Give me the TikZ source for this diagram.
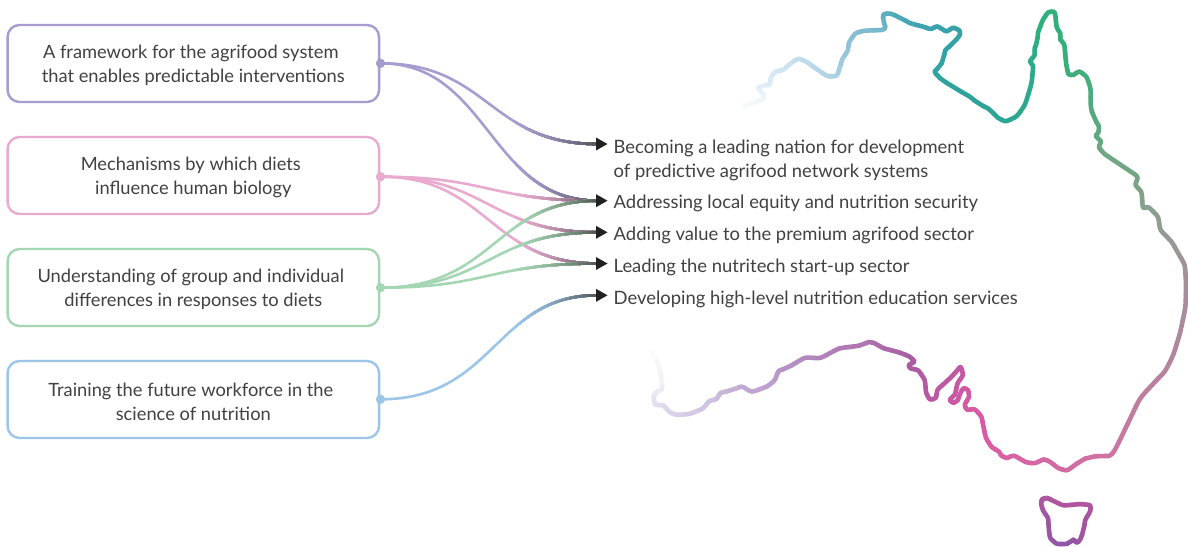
\documentclass[tikz,border=0pt]{standalone}
\usepackage{fontspec}
\setmainfont{Lato}
\definecolor{cpurple}{HTML}{A79CD0}
\definecolor{cpink}{HTML}{E8AACF}
\definecolor{cgreen}{HTML}{A5D6B4}
\definecolor{cblue}{HTML}{9CC5E8}
\definecolor{ctext}{HTML}{414141}
\definecolor{cdark}{HTML}{505050}
\definecolor{chead}{HTML}{222222}
\newcommand\hexdef[1]{\definecolor{#1}{HTML}{#1}}
\hexdef{D2E5F2}\hexdef{8FC2DA}\hexdef{3FA2B2}\hexdef{2CA39A}\hexdef{2CB17E}\hexdef{3AAE7A}\hexdef{71A684}
\hexdef{919D90}\hexdef{A58E9A}\hexdef{CF74A2}\hexdef{DA5CA2}\hexdef{C458A2}\hexdef{A85BA2}\hexdef{B795C6}
\hexdef{D0C5E3}\hexdef{E9E7F2}\hexdef{AE55A0}\hexdef{B0559F}\hexdef{8F55A6}
\tikzset{
  topic/.style={draw=#1,line width=2.4pt,rounded corners=12pt,minimum width=371.5pt,minimum height=77pt,
    inner sep=0pt,align=center,text=ctext,font=\fontsize{18.3}{24}\selectfont,fill=white},
  knob/.style={circle,fill=#1,inner sep=0pt,minimum size=9pt},
  result/.style={anchor=west,inner sep=0pt,align=left,text=ctext,font=\fontsize{18.4}{24}\selectfont},
  coastline/.style={line width=4.6pt,line cap=round,line join=round},
  link/.style={line width=2.6pt}
}
% two-line box text: the first line sits a little left, both a little lower
\newcommand\rows[2]{\rule{0pt}{17.6pt}#1\hspace*{5pt}\\#2}
% connector: horizontal gradient to dark over the last part, via overlapping clip strips
\newcommand\conn[5]{%
  \draw[link,#1] (#2.center) .. controls (#4,0 |- #2.center) and (#5,0 |- #3) .. (#3);
  \foreach \k in {0,...,18}{%
    \pgfmathsetmacro\sx{515+\k*4.5}
    \pgfmathsetmacro\mx{100*((\k+1)/19)^1.6}
    \begin{scope}
      \clip (\sx,0) rectangle (610,546);
      \draw[link,cdark!\mx!#1] (#2.center) .. controls (#4,0 |- #2.center) and (#5,0 |- #3) .. (#3);
    \end{scope}
  }%
}
% coast: smooth chain with colour running along it
\newcommand\setframe[2]{\def\fx{#1}\def\fy{#2}}
\newcommand\coaststart[4]{\xdef\ax{#1}\xdef\ay{#2}\xdef\bx{#3}\xdef\by{#4}}
\newcommand\coast[3]{%
  \foreach \px/\py [count=\ci] in {#3}{\xdef\cn{\ci}}%
  \foreach \px/\py [count=\ci] in {#3}{%
    \pgfmathsetmacro\nx{\fx+\px/3}%
    \pgfmathsetmacro\ny{\fy+\py/3}%
    \pgfmathsetmacro\mix{100*\ci/\cn}%
    \pgfmathsetmacro\ma{(\ax+\bx)/2}%
    \pgfmathsetmacro\mb{(\ay+\by)/2}%
    \pgfmathsetmacro\mc{(\bx+\nx)/2}%
    \pgfmathsetmacro\md{(\by+\ny)/2}%
    \draw[coastline,#2!\mix!#1] (\ma,\mb) .. controls (\bx,\by) .. (\mc,\md);
    \xdef\ax{\bx}\xdef\ay{\by}\xdef\bx{\nx}\xdef\by{\ny}%
  }%
}
\begin{document}
\begin{tikzpicture}[x=1pt,y=-1pt]
\useasboundingbox (0,0) rectangle (1188,546);
\fill[white] (0,0) rectangle (1188,546);

% ---- map outline, east from the north-west end
\setframe{740}{0}
\coaststart{748.3}{113}{745}{106}
\coast{white}{D2E5F2}{15/318,45/305,70/298,72/283,52/265,70/255,90/255,92/232,105/215,130/210,150/190}
\coast{D2E5F2}{8FC2DA}{175/175,200/185,235/212,265/230,290/228,300/205,305/180,325/150,325/130,345/100}
\coast{8FC2DA}{3FA2B2}{370/92,430/90,437/82,428/60,430/42,450/40,480/52,510/70,550/80,572/88}
\coast{3FA2B2}{2CA39A}{592/78,610/90,620/95,640/82,660/92,660/105,640/130,615/150,610/180,600/200,582/215,600/235,640/262,690/290,715/312,745/325}
\coast{2CA39A}{2CB17E}{775/355,797/365,830/350,855/315,875/250,880/195,868/185,885/165,883/145,893/125,893/100,908/60,925/35}
\coast{2CB17E}{3AAE7A}{945/35,950/85,962/100,960/120,973/130,978/190,985/225,1000/225}
\coast{3AAE7A}{71A684}{1018/213,1040/230,1052/265,1052/320,1060/352,1078/380,1075/400,1065/407,1085/425,1075/440,1090/460,1150/500,1195/530}
\coast{71A684}{919D90}{1185/555,1205/575,1208/625,1225/620,1255/650,1260/690,1295/725}
\setframe{1090}{240}
\coast{919D90}{A58E9A}{262/35,285/75,288/130,287/200}
\coast{A58E9A}{CF74A2}{270/280,250/345,225/395,185/435,150/475,125/525,100/580,72/635,60/648,30/648}
\setframe{900}{340}
\coast{CF74A2}{DA5CA2}{570/350,540/362,520/380,500/392,475/385,450/365,432/357,405/370,380/368,340/345,320/355,303/347,298/335,275/322,258/295,250/260}
\coast{DA5CA2}{C458A2}{245/230,225/207,200/210,193/195,208/170,205/150,192/143,178/160,175/180,160/190,147/180,165/165,172/130,190/105,182/78}
\coast{C458A2}{A85BA2}{165/100,140/125,112/148,108/175,90/180,78/160,75/120,55/90,30/85,25/75,45/65,30/50,0/38}
\setframe{640}{330}
\coast{A85BA2}{B795C6}{770/65,730/55,705/40,688/35,660/47,595/55,570/70,540/85,495/82,465/100,440/115,415/122,405/150}
\coast{B795C6}{D0C5E3}{385/168,335/187,305/168,275/182,240/188,230/208,208/212,190/235,150/252}
\coast{D0C5E3}{E9E7F2}{110/255,90/248,70/225,45/225,40/200,50/185,67/180}
\coast{E9E7F2}{white}{65/140,55/100,35/70,22/40,15/20}

% ---- Tasmania
\setframe{900}{340}
\coaststart{1041}{503}{1042}{499}
\coast{AE55A0}{B0559F}{440/473,465/485,490/497,540/492,572/495,572/512}
\coast{B0559F}{8F55A6}{555/540,552/570,540/600,530/610,520/597,508/610,495/612,470/612}
\coast{8F55A6}{AE55A0}{450/595,445/560,445/535,428/510,423/490,425/480,440/473,465/485}

% ---- left column
\node[topic=cpurple] (b1) at (193.3,63.5) {\rows{A framework for the agrifood system}{that enables predictable interventions}};
\node[topic=cpink]   (b2) at (193.3,175.5) {\rows{Mechanisms by which diets}{influence human biology}};
\node[topic=cgreen]  (b3) at (193.3,287.5) {\rows{Understanding of group and individual}{differences in responses to diets}};
\node[topic=cblue]   (b4) at (193.3,399.5) {\rows{Training the future workforce in the}{science of nutrition}};

% ---- right column
\node[result] (r1) at (613.5,160.4) {Becoming a leading nation for development\\of predictive agrifood network systems};
\node[result] (r2) at (613.5,203.4) {Addressing local equity and nutrition security};
\node[result] (r3) at (613.5,235.4) {Adding value to the premium agrifood sector};
\node[result] (r4) at (613.5,267.4) {Leading the nutritech start-up sector};
\node[result] (r5) at (613.5,299.4) {Developing high-level nutrition education services};

% ---- anchors
\node[knob=cpurple] (d1) at (380.5,63.3) {};
\node[knob=cpink]   (d2) at (380.5,176.7) {};
\node[knob=cgreen]  (d3) at (380.5,287.7) {};
\node[knob=cblue]   (d4) at (380.5,399.3) {};
\coordinate (t1) at (597,144);
\coordinate (t2) at (597,200.7);
\coordinate (t3) at (597,232.3);
\coordinate (t4) at (597,263.5);
\coordinate (t5) at (597,295.3);

% ---- connectors
\conn{cpurple}{d1}{t1}{489}{489}
\conn{cpurple}{d1}{t2}{489}{489}
\conn{cpink}{d2}{t2}{489}{489}
\conn{cpink}{d2}{t3}{489}{489}
\conn{cpink}{d2}{t4}{489}{489}
\conn{cgreen}{d3}{t2}{495}{495}
\conn{cgreen}{d3}{t3}{489}{489}
\conn{cgreen}{d3}{t4}{489}{489}
\conn{cblue}{d4}{t5}{495}{495}
\node[knob=cpurple] at (d1) {};
\node[knob=cpink] at (d2) {};
\node[knob=cgreen] at (d3) {};
\node[knob=cblue] at (d4) {};

% ---- arrowheads
\foreach \t in {t1,t2,t3,t4,t5}{
  \fill[chead] ([xshift=-1pt,yshift=-6.5pt]\t) -- ([xshift=10.5pt]\t) -- ([xshift=-1pt,yshift=6.5pt]\t) -- cycle;
}
\end{tikzpicture}
\end{document}
